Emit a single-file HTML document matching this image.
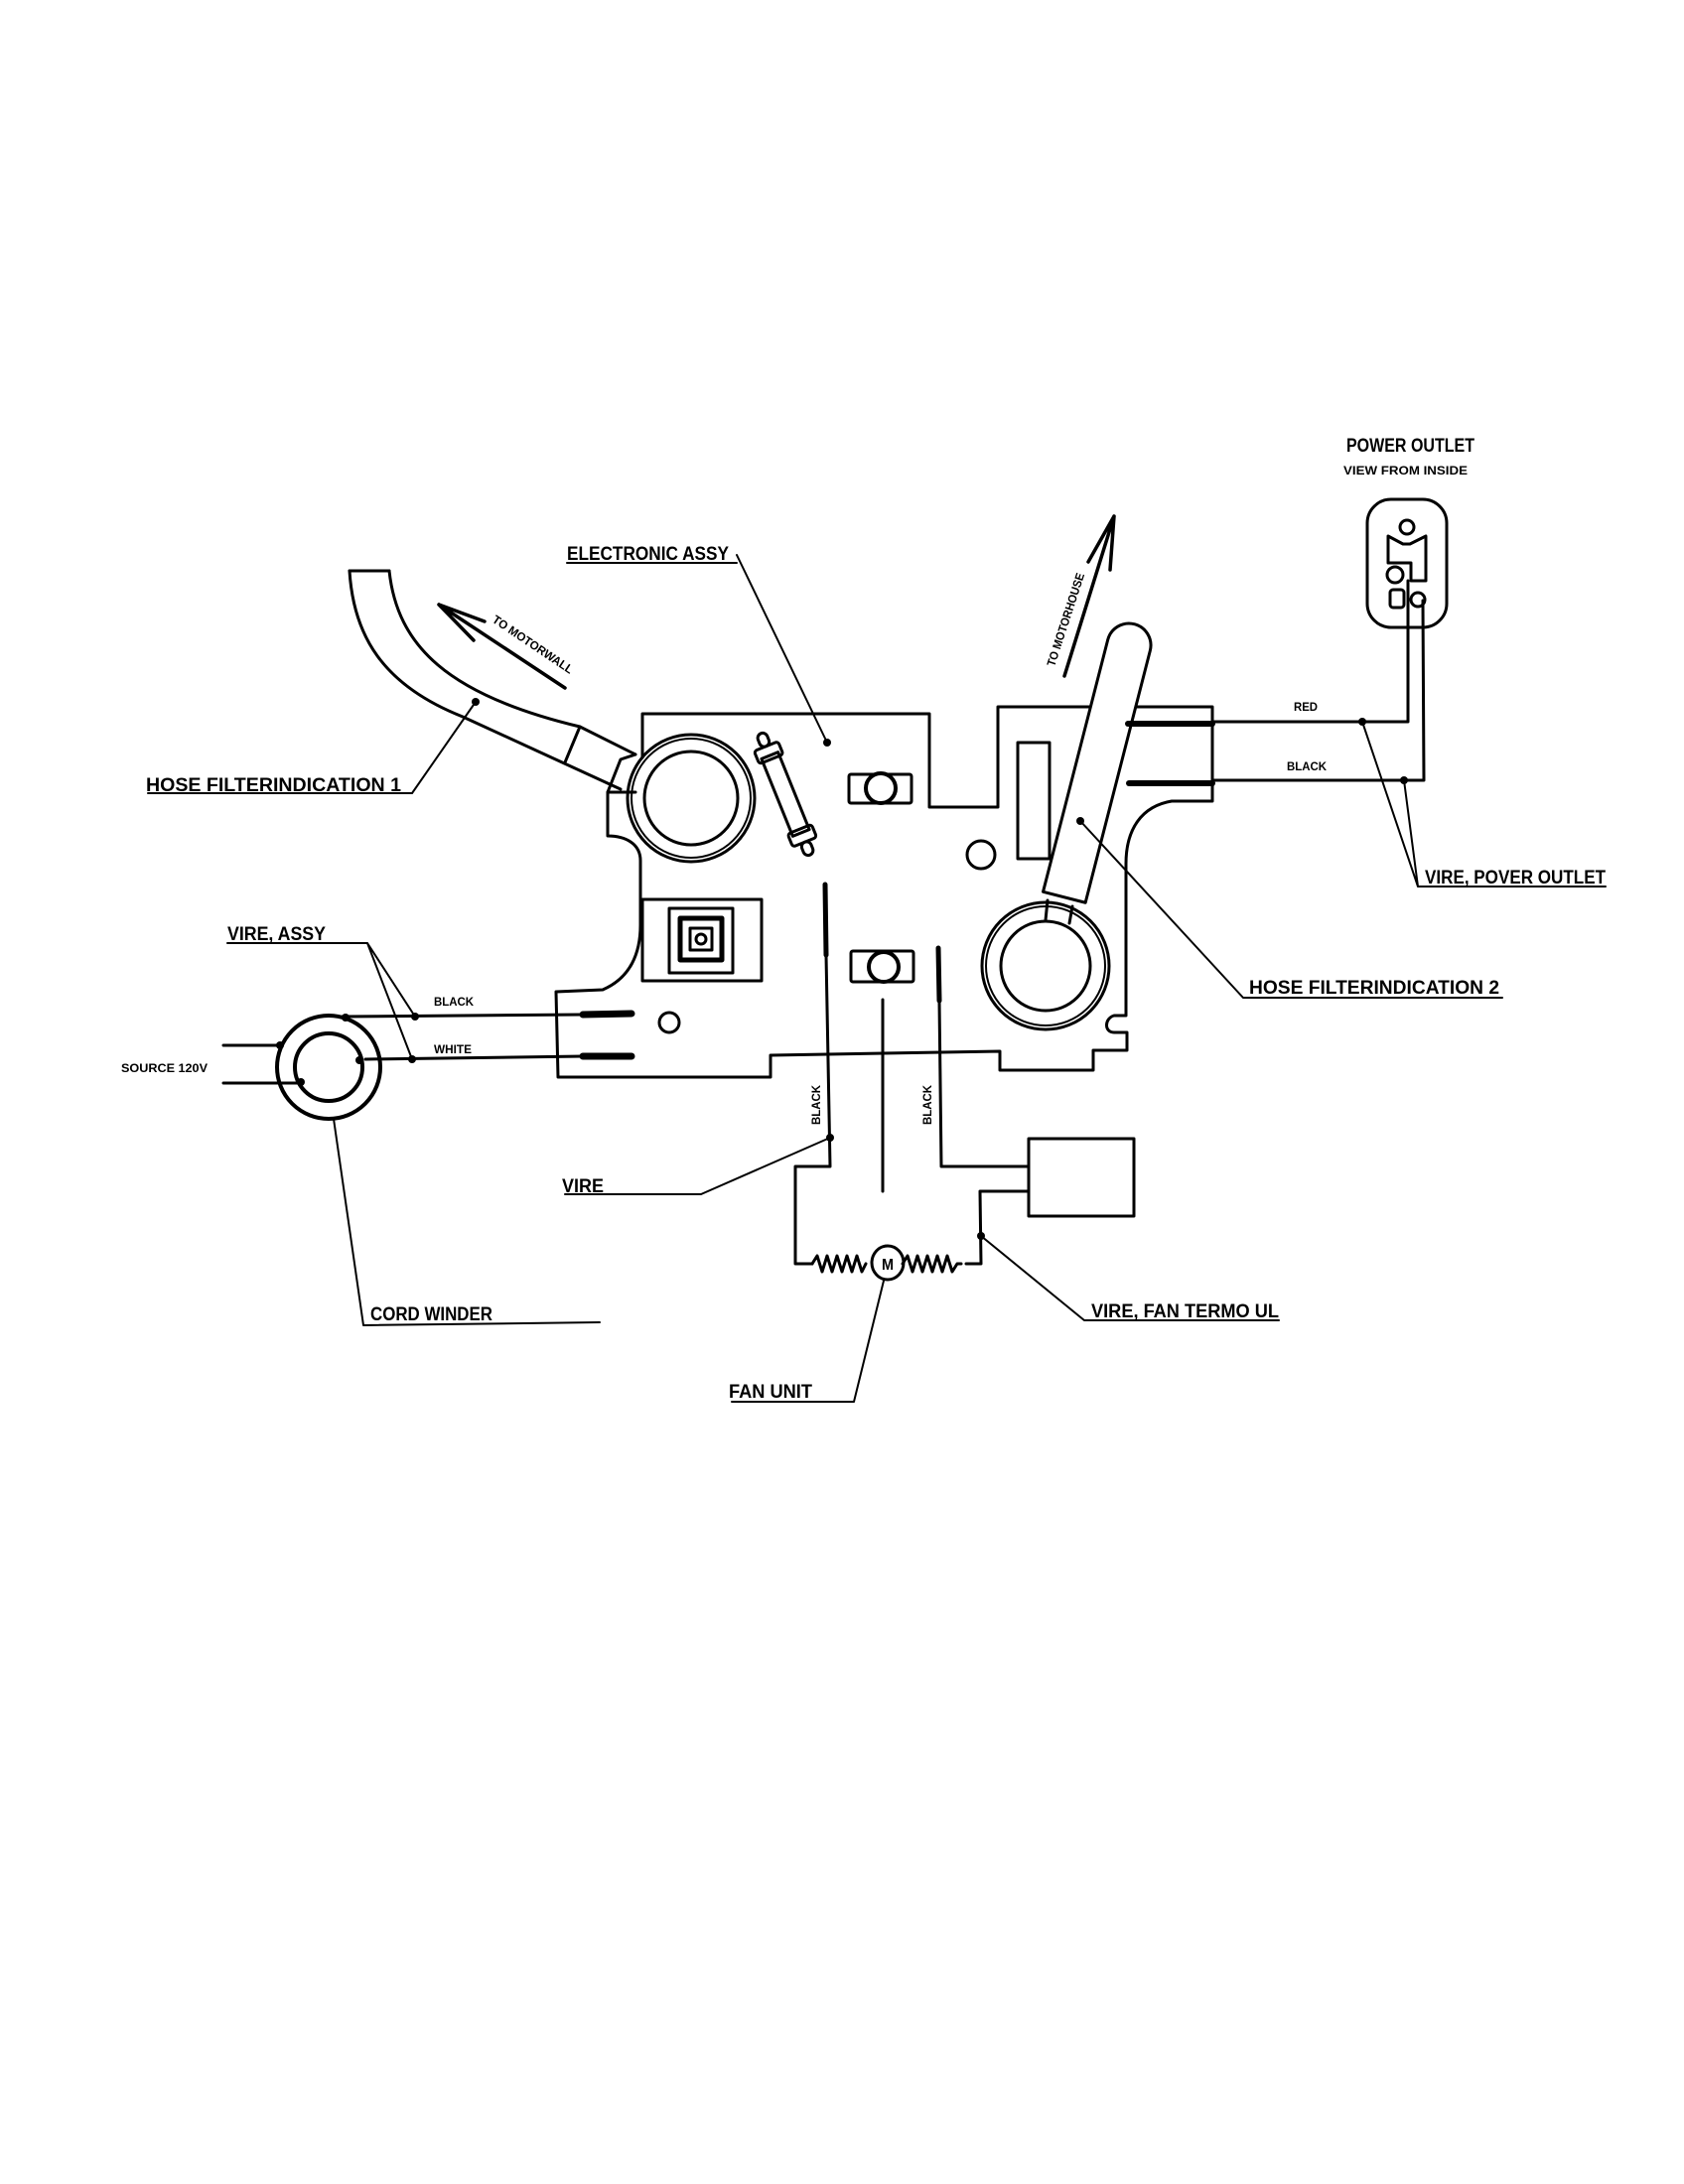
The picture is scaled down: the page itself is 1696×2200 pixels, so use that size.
<!DOCTYPE html>
<html><head><meta charset="utf-8"><style>
html,body{margin:0;padding:0;background:#fff;}
svg{display:block;}
text{font-family:"Liberation Sans",sans-serif;font-weight:bold;fill:#000;}
</style></head><body>
<svg width="1696" height="2200" viewBox="0 0 1696 2200" xmlns="http://www.w3.org/2000/svg">
<g fill="none" stroke="#000" stroke-width="3" stroke-linejoin="round" stroke-linecap="round">
<!-- Hose 1 -->
<path d="M352,575 C356,640 385,690 466,722 L625,795"/>
<path d="M392,575 C400,650 450,700 584,732 L640,760"/>
<path d="M352,575 L392,575"/>
<path d="M584,732 L569,768"/>
<path d="M612,798 L625,765 L640,760"/>
<!-- To motorwall arrow -->
<path d="M569,693 L442,609 M442,609 L488,626 M442,609 L477,645" stroke-width="3.5"/>
<!-- Board outline -->
<path d="M647,763 L647,719 L936,719 L936,813 L1005,813 L1005,712 L1221,712 L1221,807 L1180,807 C1150,812 1134,835 1134,870 L1134,1023 L1122,1023 C1112,1026 1112,1040 1122,1040 L1135,1040 L1135,1058 L1101,1058 L1101,1078 L1007,1078 L1007,1059 L776,1063 L776,1085 L562,1085 L560,999 L607,997 C635,985 645,960 645,932 L645,867 C645,850 630,842 612,842 L612,798 L640,798"/>
<!-- Circle 1 -->
<circle cx="696" cy="804" r="64"/>
<circle cx="696" cy="804" r="60" stroke-width="2"/>
<circle cx="696" cy="804" r="47"/>
<!-- Square -->
<rect x="647" y="906" width="120" height="82"/>
<rect x="674" y="915" width="64" height="65"/>
<rect x="685" y="925" width="42" height="42" stroke-width="5"/>
<rect x="695" y="935" width="22" height="22"/>
<circle cx="706" cy="946" r="5"/>
<!-- Fuse -->
<g transform="translate(791,800) rotate(-22)">
<rect x="-9" y="-42" width="18" height="84"/>
<rect x="-13" y="-52" width="26" height="14" rx="3"/>
<rect x="-13" y="38" width="26" height="14" rx="3"/>
<rect x="-5" y="-66" width="10" height="14" rx="5"/>
<rect x="-5" y="52" width="10" height="14" rx="5"/>
</g>
<!-- Nuts -->
<rect x="855" y="780" width="63" height="29" rx="2"/>
<circle cx="887" cy="794" r="15" fill="#fff" stroke-width="4"/>
<rect x="857" y="958" width="63" height="31" rx="2"/>
<circle cx="890" cy="974" r="15" fill="#fff" stroke-width="4"/>
<circle cx="988" cy="861" r="14"/>
<circle cx="674" cy="1030" r="10"/>
<rect x="1025" y="748" width="32" height="117"/>
<!-- Hose 2 -->
<g transform="translate(1137,650) rotate(14.4)">
<path d="M-22,0 A22,22 0 0 1 22,0 L22,262 L-22,262 Z" fill="#fff"/>
</g>
<path d="M1055,907 L1053,927 M1080,913 L1077,930"/>
<circle cx="1053" cy="973" r="64"/>
<circle cx="1053" cy="973" r="60" stroke-width="2"/>
<circle cx="1053" cy="973" r="45"/>
<!-- To motorhouse arrow -->
<path d="M1072,681 L1122,520 M1122,520 L1096,566 M1122,520 L1118,574" stroke-width="3.5"/>
<!-- Right wires -->
<path d="M1136,729 L1221,729" stroke-width="6"/>
<path d="M1137,789 L1221,789" stroke-width="6"/>
<path d="M1221,727 L1418,727 L1418,585"/>
<path d="M1221,786 L1434,786 L1433,605"/>
<!-- Power outlet -->
<rect x="1377" y="503" width="80" height="129" rx="24"/>
<circle cx="1417" cy="531" r="7"/>
<path d="M1398,540 L1413,548 L1420,548 L1436,540 L1436,585 L1421,585 L1421,567 L1398,567 Z"/>
<circle cx="1405" cy="579" r="8" fill="#fff"/>
<rect x="1400" y="594" width="14" height="18" rx="3"/>
<circle cx="1428" cy="604" r="7"/>
<!-- leaders -->
<path d="M1372,727 L1428,893 M1414,786 L1428,893 L1617,893" stroke-width="2"/>
<path d="M742,559 L833,748" stroke-width="2"/>
<path d="M571,567 L742,567" stroke-width="2"/>
<path d="M479,707 L415,799 L149,799" stroke-width="2"/>
<path d="M1088,827 L1252,1005 L1513,1005" stroke-width="2"/>
<!-- Left wires -->
<path d="M345,1024 L587,1022 M368,1067 L587,1064"/>
<path d="M587,1022 L636,1021 M587,1064 L636,1064" stroke-width="7"/>
<path d="M225,1053 L283,1053 M225,1091 L303,1091"/>
<circle cx="331" cy="1075" r="52" stroke-width="4"/>
<circle cx="331" cy="1075" r="34" stroke-width="4"/>
<path d="M370,950 L229,950 M370,950 L418,1024 M370,950 L415,1067" stroke-width="2"/>
<path d="M336,1127 L366,1335 L604,1332" stroke-width="2"/>
<!-- lower wires -->
<path d="M831,891 L832,962" stroke-width="5"/>
<path d="M945,955 L946,1008" stroke-width="5"/>
<path d="M832,962 L836,1175 L801,1175 L801,1273 L818,1273"/>
<path d="M889,1007 L889,1200"/>
<path d="M946,1008 L948,1175 L1036,1175"/>
<rect x="1036" y="1147" width="106" height="78"/>
<path d="M1036,1200 L987,1200 L988,1273 L973,1273"/>
<path d="M818,1273 l5,-8 l5,16 l5,-16 l5,16 l5,-16 l5,16 l5,-16 l5,16 l5,-16 l5,16 l4,-8"/>
<path d="M909,1273 l5,-8 l5,16 l5,-16 l5,16 l5,-16 l5,16 l5,-16 l5,16 l5,-16 l5,16 l5,-8 l4,0"/>
<ellipse cx="894" cy="1272" rx="16" ry="17"/>
<path d="M836,1146 L706,1203 L569,1203" stroke-width="2"/>
<path d="M890,1290 L860,1412 L737,1412" stroke-width="2"/>
<path d="M988,1245 L1092,1330 L1288,1330" stroke-width="2"/>
</g>
<g fill="#000">
<circle cx="479" cy="707" r="4"/><circle cx="833" cy="748" r="4"/><circle cx="1088" cy="827" r="4"/>
<circle cx="1372" cy="727" r="4"/><circle cx="1414" cy="786" r="4"/>
<circle cx="418" cy="1024" r="4"/><circle cx="415" cy="1067" r="4"/>
<circle cx="348" cy="1025" r="4"/><circle cx="362" cy="1068" r="4"/><circle cx="282" cy="1053" r="4"/><circle cx="303" cy="1090" r="4"/>
<circle cx="836" cy="1146" r="4"/><circle cx="988" cy="1245" r="4"/>
</g>
<g font-size="19">
<text x="888" y="1279" font-size="16" textLength="12" lengthAdjust="spacingAndGlyphs">M</text>
<text x="1356" y="455" textLength="129" lengthAdjust="spacingAndGlyphs">POWER OUTLET</text>
<text x="1353" y="478" font-size="12" textLength="125" lengthAdjust="spacingAndGlyphs">VIEW FROM INSIDE</text>
<text x="571" y="564" textLength="163" lengthAdjust="spacingAndGlyphs">ELECTRONIC ASSY</text>
<text x="147" y="797" textLength="257" lengthAdjust="spacingAndGlyphs">HOSE FILTERINDICATION 1</text>
<text x="1258" y="1001" textLength="252" lengthAdjust="spacingAndGlyphs">HOSE FILTERINDICATION 2</text>
<text x="1435" y="890" textLength="182" lengthAdjust="spacingAndGlyphs">VIRE, POVER OUTLET</text>
<text x="229" y="947" textLength="99" lengthAdjust="spacingAndGlyphs">VIRE, ASSY</text>
<text x="566" y="1201" textLength="42" lengthAdjust="spacingAndGlyphs">VIRE</text>
<text x="373" y="1330" textLength="123" lengthAdjust="spacingAndGlyphs">CORD WINDER</text>
<text x="734" y="1408" textLength="84" lengthAdjust="spacingAndGlyphs">FAN UNIT</text>
<text x="1099" y="1327" textLength="189" lengthAdjust="spacingAndGlyphs">VIRE, FAN TERMO UL</text>
<text x="122" y="1080" font-size="12" textLength="87" lengthAdjust="spacingAndGlyphs">SOURCE 120V</text>
<text x="437" y="1013" font-size="12" textLength="40" lengthAdjust="spacingAndGlyphs">BLACK</text>
<text x="437" y="1061" font-size="12" textLength="38" lengthAdjust="spacingAndGlyphs">WHITE</text>
<text x="1303" y="716" font-size="12" textLength="24" lengthAdjust="spacingAndGlyphs">RED</text>
<text x="1296" y="776" font-size="12" textLength="40" lengthAdjust="spacingAndGlyphs">BLACK</text>
<text transform="translate(826,1133) rotate(-90)" font-size="12" textLength="40" lengthAdjust="spacingAndGlyphs">BLACK</text>
<text transform="translate(938,1133) rotate(-90)" font-size="12" textLength="40" lengthAdjust="spacingAndGlyphs">BLACK</text>
<text transform="translate(495,626) rotate(34)" font-size="12" textLength="95" lengthAdjust="spacingAndGlyphs">TO MOTORWALL</text>
<text transform="translate(1062,672) rotate(-72)" font-size="12" textLength="98" lengthAdjust="spacingAndGlyphs">TO MOTORHOUSE</text>
</g>
</svg>
</body></html>
